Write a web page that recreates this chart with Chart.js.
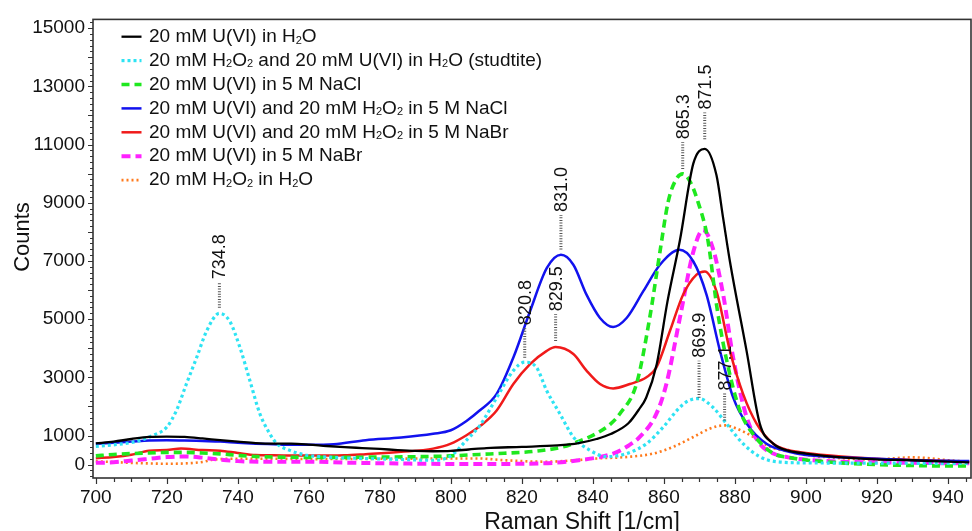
<!DOCTYPE html>
<html>
<head>
<meta charset="utf-8">
<script src="https://cdn.jsdelivr.net/npm/chart.js@4/dist/chart.umd.min.js"></script>
<style>
html,body{margin:0;padding:0;background:#fff;}
#wrap{width:972px;height:531px;position:relative;}
</style>
</head>
<body>
<div id="wrap"><canvas id="c" width="972" height="531"></canvas></div>
<script>
const FONT = '"Liberation Sans", Arial, Helvetica, sans-serif';

const seriesNames = [
  '20 mM U(VI) in H₂O',
  '20 mM H₂O₂ and 20 mM U(VI) in H₂O (studtite)',
  '20 mM U(VI) in 5 M NaCl',
  '20 mM U(VI) and 20 mM H₂O₂ in 5 M NaCl',
  '20 mM U(VI) and 20 mM H₂O₂ in 5 M NaBr',
  '20 mM U(VI) in 5 M NaBr',
  '20 mM H₂O₂ in H₂O'
];

const blackShift = [700,705,710,715,720,725,730,735,740,745,750,755,760,765,770,775,780,785,790,795,800,805,810,820,830,836,841,845,850,853,855,858,861,864.5,868.3,871.5,874.8,876.7,878.6,883.3,887,890.8,895,900,910,920,930,940,946];
const blackCounts = [730,790,880,950,960,950,900,840,790,740,720,720,690,640,600,570,540,500,470,460,470,520,570,610,660,740,880,1050,1420,1900,2300,3460,5600,7700,10350,10850,9950,8460,6980,3900,1410,720,480,380,250,180,150,100,80];

const cyanShift = [700,705,710,713,716,720,722.7,725.5,728.4,731.2,734.8,737.7,740.6,743.4,746.2,749,751,754.6,759,765,770,776,785,795,800,804.4,808.2,812.9,817.6,820.8,824.1,827,830.7,834.5,839.2,843.9,849.5,855.1,859.8,864.5,867,869.9,873.8,877.6,882.3,887,891.7,900,920,946];
const cyanCounts = [630,680,760,850,1000,1290,1860,2770,3680,4590,5200,4930,4020,2880,1750,1060,720,490,330,260,230,210,180,150,300,840,1350,2300,3230,3520,3340,2540,1750,950,490,270,380,720,1290,1970,2200,2270,1970,1410,720,270,100,60,50,40];

const greenShift = [700,705,710,715,720,725,730,735,740,745,750,760,770,780,790,800,808,815,823,831.6,836,841,845,847.6,852.3,856,858.9,861.2,863.2,865.3,867.5,869.6,872.3,875.1,877.9,881.4,885,890.7,895,900,910,920,930,940,946];
const greenCounts = [300,350,380,400,420,420,400,370,320,280,260,250,250,260,270,300,350,390,450,610,800,1070,1400,1750,2780,5040,7320,9030,9750,9990,9700,9030,7780,5270,3460,1860,1070,390,250,160,60,0,-30,-50,-50];

const blueShift = [700,705,710,715,720,725,730,735,740,745,750,755,760,767,776,786,795,800,804.4,808,812.9,817.6,822.3,827,831,834.5,838.2,842,845.7,849.5,854.2,858.9,864.4,868.3,872,875.8,879.5,883.3,888.9,895,900,910,920,930,940,946];
const blueCounts = [720,750,790,830,840,830,810,790,750,720,700,680,680,700,840,930,1060,1180,1500,1850,2430,3680,5270,6750,7210,6870,5840,5040,4730,5040,5960,6870,7380,6980,5840,3910,2310,1410,720,450,330,250,200,150,130,120];

const redShift = [700,705,710,715,720,724,730,735,740,745,750,760,770,776,786,795,800,804.4,808.5,812.9,817.6,822.3,827,829.5,834.5,838.2,842,845.7,850.4,855.1,857.9,861.7,865.4,869.2,871.5,874.8,878.6,882.3,886.1,890.8,895,900,910,920,930,940,946];
const redCounts = [220,260,340,480,500,550,500,480,400,330,320,310,320,360,440,550,720,1010,1350,1860,2770,3450,3910,4040,3800,3230,2770,2620,2770,3000,3340,4590,5840,6530,6640,5960,3910,2430,1410,720,500,400,280,200,160,120,100];

const magentaShift = [700,705,710,715,720,725,730,735,740,750,760,770,785,805,825,836,845.7,850,853.2,857.9,860.7,864.5,868.3,871,873.8,876.7,879.5,883.3,887,890.8,895,900,910,920,930,940,946];
const magentaCounts = [60,80,140,200,260,280,240,170,120,100,100,70,40,20,40,150,380,650,950,1750,2770,5040,7320,8060,7430,5840,3680,1630,720,380,250,170,100,80,60,50,50];

const orangeShift = [700,705,710,715,720,725,730,733,740,750,760,780,795,808,815,827,835,841,850.4,857,862.6,868.3,873,877.1,880.5,885.2,889.9,895,900,910,920,925,930,935,940,946];
const orangeCounts = [110,90,60,40,30,40,90,170,200,200,190,200,210,210,150,100,150,210,270,380,610,950,1240,1350,1240,950,610,450,330,220,170,220,250,220,150,100];

const xTickLabels = [700,720,740,760,780,800,820,840,860,880,900,920,940];
const yTickLabels = [0,1000,3000,5000,7000,9000,11000,13000,15000];

const peakLabels = ['734.8','820.8','829.5','831.0','865.3','869.9','871.5','877.1'];
const peakShift = [734.8,820.8,829.5,831.0,865.3,869.9,871.5,877.1];
const peakLineFrom = [5390,3670,4250,7390,10160,2300,11180,1520];
const peakLineTo = [6270,4690,5170,8580,11080,3570,12100,2440];

const styles = [
  {color:'#000000', width:2.3, dash:[]},
  {color:'#2ee3f3', width:3.2, dash:[3,3]},
  {color:'#1fe81f', width:3.6, dash:[8,5]},
  {color:'#1212ee', width:2.5, dash:[]},
  {color:'#f01a1a', width:2.5, dash:[]},
  {color:'#ff22ff', width:4, dash:[9,5]},
  {color:'#ff7a1c', width:2.6, dash:[2,3]}
];
const shifts = [blackShift, cyanShift, greenShift, blueShift, redShift, magentaShift, orangeShift];
const counts = [blackCounts, cyanCounts, greenCounts, blueCounts, redCounts, magentaCounts, orangeCounts];

const datasets = seriesNames.map((name, i) => ({
  label: name,
  data: shifts[i].map((s, j) => ({x: s, y: counts[i][j]})),
  borderColor: styles[i].color,
  borderWidth: styles[i].width,
  borderDash: styles[i].dash,
  pointRadius: 0,
  fill: false,
  cubicInterpolationMode: 'monotone'
}));

function drawRich(ctx, text, x, y, size) {
  const parts = text.split(/(₂+)/);
  let cx = x;
  for (const p of parts) {
    if (!p) continue;
    if (p[0] === '₂') {
      const s = Math.round(size * 0.58);
      ctx.font = s + 'px ' + FONT;
      const t = p.replace(/₂/g, '2');
      ctx.fillText(t, cx, y + size * 0.2);
      cx += ctx.measureText(t).width;
    } else {
      ctx.font = size + 'px ' + FONT;
      ctx.fillText(p, cx, y);
      cx += ctx.measureText(p).width;
    }
  }
}

const decor = {
  id: 'decor',
  afterDatasetsDraw(chart) {
    const {ctx, chartArea: a, scales} = chart;
    const xs = scales.x, ys = scales.y;
    ctx.save();
    // frame
    ctx.strokeStyle = '#333';
    ctx.lineWidth = 1.6;
    ctx.setLineDash([]);
    ctx.strokeRect(a.left, a.top, a.right - a.left, a.bottom - a.top);
    // tick marks
    ctx.beginPath();
    for (let v = 700; v <= xs.max; v += 5) {
      const px = Math.round(xs.getPixelForValue(v)) + 0.5;
      const len = v % 20 === 0 ? 6 : 4;
      ctx.moveTo(px, a.bottom); ctx.lineTo(px, a.bottom + len);
    }
    for (let v = -400; v <= ys.max; v += 200) {
      const py = Math.round(ys.getPixelForValue(v)) + 0.5;
      const len = v % 1000 === 0 ? 5 : 3;
      ctx.moveTo(a.left, py); ctx.lineTo(a.left - len, py);
    }
    ctx.lineWidth = 1.2;
    ctx.stroke();

    // peak annotations
    peakLabels.forEach((t, i) => {
      const px = xs.getPixelForValue(peakShift[i]);
      const y0 = ys.getPixelForValue(peakLineFrom[i]);
      const y1 = ys.getPixelForValue(peakLineTo[i]);
      ctx.setLineDash([1, 1.6]);
      ctx.lineWidth = 3;
      ctx.strokeStyle = '#555';
      ctx.beginPath(); ctx.moveTo(px, y0); ctx.lineTo(px, y1); ctx.stroke();
      ctx.setLineDash([]);
      ctx.save();
      ctx.translate(px, y1 - 3);
      ctx.rotate(-Math.PI / 2);
      ctx.font = '18px ' + FONT;
      ctx.fillStyle = '#111';
      ctx.textAlign = 'left';
      ctx.textBaseline = 'middle';
      ctx.fillText(t, 0, 1);
      ctx.restore();
    });

    // legend
    const lx0 = 121.5, lx1 = 141.5, tx = 149, ly0 = 36.7, dy = 23.9;
    seriesNames.forEach((name, i) => {
      const yy = ly0 + i * dy;
      ctx.setLineDash(styles[i].dash);
      ctx.lineWidth = styles[i].width;
      ctx.strokeStyle = styles[i].color;
      ctx.beginPath(); ctx.moveTo(lx0, yy); ctx.lineTo(lx1, yy); ctx.stroke();
      ctx.setLineDash([]);
      ctx.fillStyle = '#111';
      ctx.textAlign = 'left';
      ctx.textBaseline = 'middle';
      drawRich(ctx, name, tx, yy, 19);
    });

    // axis titles
    ctx.fillStyle = '#111';
    ctx.font = '23px ' + FONT;
    ctx.textAlign = 'center';
    ctx.textBaseline = 'alphabetic';
    ctx.fillText('Raman Shift [1/cm]', 582, 529);
    ctx.save();
    ctx.translate(28.5, 237);
    ctx.rotate(-Math.PI / 2);
    ctx.font = '22px ' + FONT;
    ctx.fillText('Counts', 0, 0);
    ctx.restore();
    ctx.restore();
  }
};

new Chart(document.getElementById('c'), {
  type: 'line',
  data: {datasets},
  options: {
    responsive: false,
    animation: false,
    devicePixelRatio: 1,
    layout: {padding: {left: 0, right: 1, top: 16, bottom: 0}},
    plugins: {legend: {display: false}, tooltip: {enabled: false}},
    scales: {
      x: {
        type: 'linear',
        min: 699.2,
        max: 946.5,
        afterBuildTicks: s => { s.ticks = xTickLabels.map(v => ({value: v})); },
        afterFit: s => { s.height = 53; },
        grid: {display: false, drawTicks: false},
        border: {display: false},
        ticks: {
          autoSkip: false, maxRotation: 0, padding: 8,
          color: '#111', font: {family: FONT, size: 19},
          callback: v => String(v)
        }
      },
      y: {
        type: 'linear',
        min: -460,
        max: 15300,
        afterBuildTicks: s => { s.ticks = yTickLabels.map(v => ({value: v})); },
        afterFit: s => { s.width = 93; },
        grid: {display: false, drawTicks: false},
        border: {display: false},
        ticks: {
          autoSkip: false, padding: 8,
          color: '#111', font: {family: FONT, size: 19},
          callback: v => String(v)
        }
      }
    }
  },
  plugins: [decor]
});
</script>
</body>
</html>
